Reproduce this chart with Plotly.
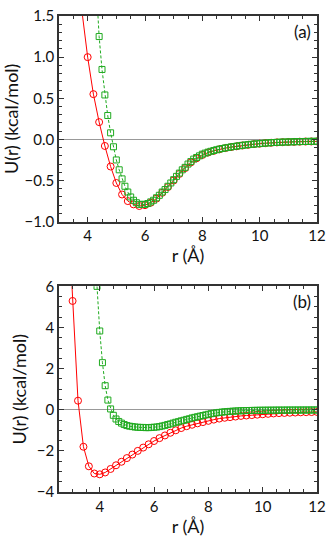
import plotly.graph_objects as go
from plotly.subplots import make_subplots

# panel (a)
r_a_red = [3.8, 4.0, 4.2, 4.4, 4.6, 4.8, 5.0, 5.2, 5.4, 5.6, 5.8, 6.0, 6.2, 6.4,
           6.6, 6.8, 7.0, 7.2, 7.4, 7.6, 7.8, 8.0, 8.2, 8.4, 8.6, 8.8, 9.0, 9.2,
           9.4, 9.6, 9.8, 10.0, 10.2, 10.4, 10.6, 10.8, 11.0, 11.2, 11.4, 11.6,
           11.8, 12.0]
u_a_red = [1.56, 1.00, 0.55, 0.21, -0.08, -0.33, -0.53, -0.67, -0.75, -0.79,
           -0.81, -0.80, -0.77, -0.72, -0.65, -0.58, -0.50, -0.42, -0.35, -0.28,
           -0.23, -0.19, -0.16, -0.14, -0.12, -0.106, -0.094, -0.084, -0.074,
           -0.066, -0.058, -0.052, -0.046, -0.041, -0.037, -0.034, -0.032,
           -0.030, -0.028, -0.026, -0.025, -0.024]

r_a_green = [4.3, 4.4, 4.5, 4.6, 4.7, 4.8, 4.9, 5.0, 5.1, 5.2,
             5.3, 5.4, 5.5, 5.6, 5.7, 5.8, 5.9, 6.0, 6.1, 6.2,
             6.3, 6.4, 6.5, 6.6, 6.7, 6.8, 6.9, 7.0, 7.1, 7.2,
             7.3, 7.4, 7.5, 7.6, 7.7, 7.8, 7.9, 8.0, 8.1, 8.2,
             8.3, 8.4, 8.5, 8.6, 8.7, 8.8, 8.9, 9.0, 9.1, 9.2,
             9.3, 9.4, 9.5, 9.6, 9.7, 9.8, 9.9, 10.0, 10.1, 10.2,
             10.3, 10.4, 10.5, 10.6, 10.7, 10.8, 10.9, 11.0, 11.1, 11.2,
             11.3, 11.4, 11.5, 11.6, 11.7, 11.8, 11.9, 12.0]
u_a_green = [1.87, 1.25, 0.85, 0.54, 0.29, 0.08, -0.09, -0.25, -0.37, -0.48,
             -0.57, -0.64, -0.70, -0.74, -0.77, -0.79, -0.79, -0.79, -0.78, -0.76,
             -0.74, -0.71, -0.68, -0.64, -0.61, -0.57, -0.53, -0.49, -0.45, -0.41,
             -0.37, -0.34, -0.30, -0.27, -0.24, -0.22, -0.20, -0.18, -0.167, -0.155,
             -0.145, -0.135, -0.126, -0.118, -0.111, -0.104, -0.098, -0.092, -0.087, -0.082,
             -0.077, -0.072, -0.068, -0.064, -0.060, -0.057, -0.054, -0.051, -0.048, -0.045,
             -0.043, -0.040, -0.038, -0.036, -0.034, -0.033, -0.032, -0.031, -0.030, -0.029,
             -0.028, -0.027, -0.026, -0.025, -0.024, -0.024, -0.023, -0.023]

# panel (b)
r_b_red = [2.8, 3.0, 3.2, 3.4, 3.6, 3.8, 4.0, 4.2, 4.4, 4.6,
           4.8, 5.0, 5.2, 5.4, 5.6, 5.8, 6.0, 6.2, 6.4, 6.6,
           6.8, 7.0, 7.2, 7.4, 7.6, 7.8, 8.0, 8.2, 8.4, 8.6,
           8.8, 9.0, 9.2, 9.4, 9.6, 9.8, 10.0, 10.2, 10.4, 10.6,
           10.8, 11.0, 11.2, 11.4, 11.6, 11.8, 12.0]
u_b_red = [10.5, 5.29, 0.44, -1.80, -2.75, -3.10, -3.14, -3.05, -2.88, -2.70,
           -2.53, -2.35, -2.18, -2.00, -1.84, -1.68, -1.52, -1.38, -1.25, -1.12,
           -1.00, -0.89, -0.80, -0.73, -0.66, -0.60, -0.54, -0.48, -0.43, -0.39,
           -0.36, -0.33, -0.30, -0.28, -0.26, -0.24, -0.22, -0.20, -0.18, -0.165,
           -0.155, -0.145, -0.135, -0.125, -0.118, -0.112, -0.106]

r_b_green = [3.9, 4.0, 4.1, 4.2, 4.3, 4.4, 4.5, 4.6, 4.7, 4.8,
             4.9, 5.0, 5.1, 5.2, 5.3, 5.4, 5.5, 5.6, 5.7, 5.8,
             5.9, 6.0, 6.1, 6.2, 6.3, 6.4, 6.5, 6.6, 6.7, 6.8,
             6.9, 7.0, 7.1, 7.2, 7.3, 7.4, 7.5, 7.6, 7.7, 7.8,
             7.9, 8.0, 8.1, 8.2, 8.3, 8.4, 8.5, 8.6, 8.7, 8.8,
             8.9, 9.0, 9.1, 9.2, 9.3, 9.4, 9.5, 9.6, 9.7, 9.8,
             9.9, 10.0, 10.1, 10.2, 10.3, 10.4, 10.5, 10.6, 10.7, 10.8,
             10.9, 11.0, 11.1, 11.2, 11.3, 11.4, 11.5, 11.6, 11.7, 11.8,
             11.9, 12.0]
u_b_green = [6.0, 3.83, 2.29, 1.17, 0.47, 0.04, -0.27, -0.45, -0.57, -0.65,
             -0.72, -0.77, -0.80, -0.82, -0.84, -0.85, -0.86, -0.86, -0.87, -0.87,
             -0.86, -0.85, -0.84, -0.82, -0.79, -0.76, -0.72, -0.69, -0.65, -0.61,
             -0.58, -0.54, -0.51, -0.47, -0.44, -0.40, -0.37, -0.34, -0.31, -0.28,
             -0.25, -0.22, -0.19, -0.17, -0.15, -0.13, -0.115, -0.10, -0.09, -0.08,
             -0.07, -0.062, -0.055, -0.049, -0.044, -0.040, -0.036, -0.033, -0.030, -0.028,
             -0.026, -0.024, -0.023, -0.022, -0.021, -0.020, -0.019, -0.018, -0.018, -0.017,
             -0.016, -0.016, -0.015, -0.015, -0.014, -0.014, -0.013, -0.013, -0.013, -0.012,
             -0.012, -0.012]

RED = '#ff0000'
GREEN = '#1faa1f'

fig = make_subplots(rows=2, cols=1)

for row, (rr, ur, rg, ug) in enumerate([(r_a_red, u_a_red, r_a_green, u_a_green),
                                         (r_b_red, u_b_red, r_b_green, u_b_green)], start=1):
    fig.add_trace(go.Scatter(
        x=rr, y=ur, mode='lines+markers',
        line=dict(color=RED, width=1),
        marker=dict(symbol='circle-open', size=7, color=RED, line=dict(width=1))
    ), row=row, col=1)
    fig.add_trace(go.Scatter(
        x=rg, y=ug, mode='lines+markers',
        line=dict(color=GREEN, width=1, dash='3px,2px'),
        marker=dict(symbol='square-open', size=6, color=GREEN, line=dict(width=1))
    ), row=row, col=1)

axis_style = dict(
    showline=True, linecolor='#333333', linewidth=1.5, mirror='ticks',
    ticks='inside', ticklen=5, tickwidth=1, tickcolor='#333333',
    showgrid=False, zeroline=False,
    minor=dict(ticks='inside', ticklen=3, tickwidth=1, tickcolor='#333333', showgrid=False),
)

fig.update_xaxes(**axis_style)
fig.update_yaxes(**axis_style)
fig.update_yaxes(zeroline=True, zerolinecolor='#999999', zerolinewidth=1)

fig.update_layout(
    xaxis=dict(range=[3, 12], dtick=2, minor=dict(dtick=0.5),
               title=dict(text='r (Å)', standoff=6)),
    yaxis=dict(range=[-1, 1.5], dtick=0.5, tickformat='.1f', minor=dict(dtick=0.1),
               domain=[0.568, 1.0], title=dict(text='U(r) (kcal/mol)', standoff=6)),
    xaxis2=dict(range=[2.5, 12], dtick=2, tick0=0, minor=dict(dtick=0.5),
                title=dict(text='r (Å)', standoff=6)),
    yaxis2=dict(range=[-4, 6], dtick=2, minor=dict(dtick=0.5),
                domain=[0.0, 0.432], title=dict(text='U(r) (kcal/mol)', standoff=6)),
    width=332, height=544,
    margin=dict(l=59, r=10, t=6, b=52),
    plot_bgcolor='white', paper_bgcolor='white',
    showlegend=False,
    font=dict(family='Lato', size=15, color='#111111'),
    annotations=[
        dict(text='(a)', x=0.985, y=0.985, xref='x domain', yref='y domain',
             xanchor='right', yanchor='top', showarrow=False, font=dict(size=17)),
        dict(text='(b)', x=0.985, y=0.985, xref='x2 domain', yref='y2 domain',
             xanchor='right', yanchor='top', showarrow=False, font=dict(size=17)),
    ],
)

# the page has an 8px body margin by default; drop it so the figure sits at 0,0
fig.write_html("out.html", config={'displayModeBar': False},
               post_script="document.body.style.margin='0';")
